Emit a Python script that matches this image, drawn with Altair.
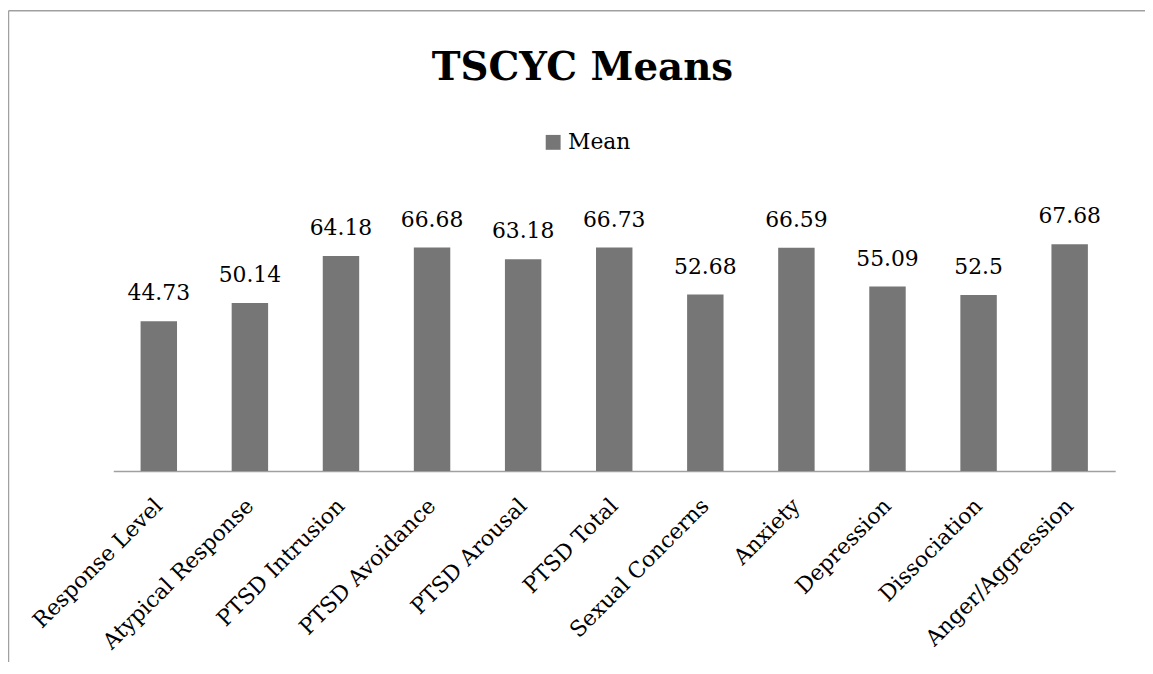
import altair as alt
import pandas as pd

categories = ["Response Level", "Atypical Response", "PTSD Intrusion", "PTSD Avoidance",
              "PTSD Arousal", "PTSD Total", "Sexual Concerns", "Anxiety", "Depression",
              "Dissociation", "Anger/Aggression"]
means = [44.73, 50.14, 64.18, 66.68, 63.18, 66.73, 52.68, 66.59, 55.09, 52.5, 67.68]
series_name = "Mean"

df = pd.DataFrame({"category": categories, "value": means, "series": [series_name] * len(categories)})

FONT = "DejaVu Serif"
W, H = 1009, 270

base = alt.Chart(df)

bars = base.mark_bar(color="#767676").encode(
    x=alt.X("category:N", sort=categories, title=None,
            scale=alt.Scale(paddingInner=0.6, paddingOuter=0.3),
            axis=alt.Axis(labelAngle=-45, labelFont=FONT, labelFontSize=22, labelColor="#000000",
                          labelAlign="right", labelBaseline="middle", labelPadding=31, labelLimit=0,
                          ticks=False, domainColor="#a0a0a0", domainWidth=1.5, labelOverlap=False)),
    y=alt.Y("value:Q", scale=alt.Scale(domain=[0, 80], nice=False), axis=None),
    color=alt.Color("series:N", scale=alt.Scale(range=["#767676"]),
                    legend=alt.Legend(title=None, orient="none", legendX=432, legendY=-72,
                                      symbolType="square", symbolSize=225, symbolStrokeWidth=0,
                                      labelFont=FONT, labelFontSize=22, labelColor="#000000",
                                      labelOffset=4, padding=0)),
)

labels = base.mark_text(font=FONT, fontSize=22, baseline="alphabetic", dy=-21, color="#000000").encode(
    x=alt.X("category:N", sort=categories),
    y=alt.Y("value:Q"),
    text=alt.Text("value:Q"),
)

top_border = alt.Chart(pd.DataFrame({"b": [0]})).mark_rule(color="#a0a0a0", strokeWidth=1.5).encode(
    x=alt.value(-105.5), x2=alt.value(1040), y=alt.value(-193.5))
left_border = alt.Chart(pd.DataFrame({"b": [0]})).mark_rule(color="#a0a0a0", strokeWidth=1.5).encode(
    x=alt.value(-105.5), y=alt.value(-193.5), y2=alt.value(470))

chart = alt.layer(bars, labels, top_border, left_border).properties(
    width=W, height=H,
    title=alt.TitleParams("TSCYC Means", font=FONT, fontSize=39, fontWeight="bold", color="#000000",
                          anchor="middle", dx=-32, frame="group", baseline="alphabetic", offset=-109),
    autosize=alt.AutoSizeParams(type="none"),
    padding={"left": 106, "top": 194, "right": 30, "bottom": 190},
).configure_view(stroke=None)

chart.save("out.html", embed_options={"renderer": "svg", "actions": False})
